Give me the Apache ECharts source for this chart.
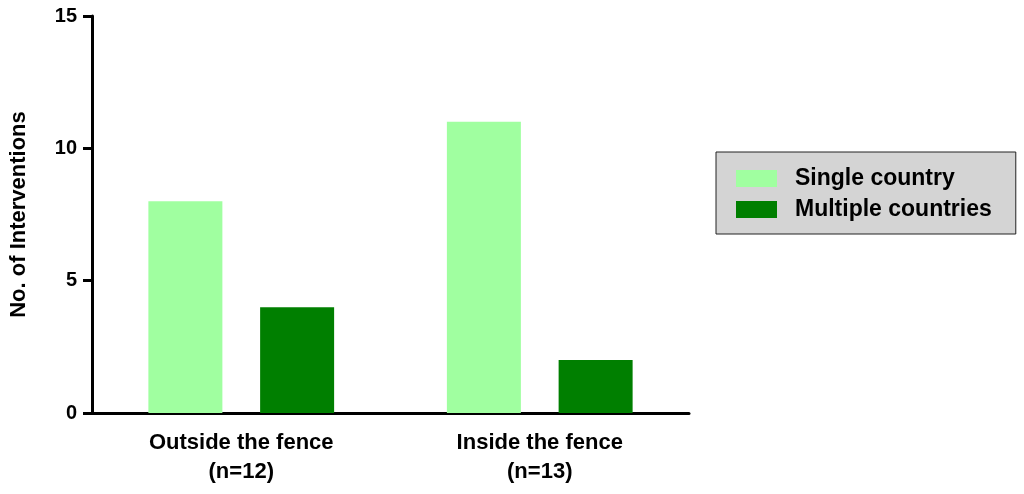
<!DOCTYPE html>
<html>
<head>
<meta charset="utf-8">
<script src="https://cdn.jsdelivr.net/npm/echarts@6/dist/echarts.min.js"></script>
<style>
    html, body { margin: 0; padding: 0; background: #fff; }
    #chart { width: 1024px; height: 494px; }
</style>
</head>
<body>
<div id="chart"></div>
<script>
const categories = ['Outside the fence\n(n=12)', 'Inside the fence\n(n=13)'];
const singleCountry = [8, 11];
const multipleCountries = [4, 2];

const chart = echarts.init(document.getElementById('chart'));

const axisFont = {
    color: '#000',
    fontFamily: 'Liberation Sans, Arial',
    fontWeight: 'bold'
};

chart.setOption({
    animation: false,
    grid: {
        left: 90,
        right: 335,
        top: 16,
        bottom: 81
    },
    legend: {
        orient: 'vertical',
        left: 716,
        top: 152,
        itemWidth: 41,
        itemHeight: 17,
        itemGap: 8,
        padding: [15, 24, 13, 20],
        backgroundColor: '#d4d4d4',
        borderColor: '#222',
        borderWidth: 1,
        borderRadius: 0,
        icon: 'rect',
        textStyle: Object.assign({ fontSize: 23, padding: [0, 0, 0, 13] }, axisFont),
        data: ['Single country', 'Multiple countries']
    },
    xAxis: {
        type: 'category',
        data: categories,
        axisLine: { lineStyle: { color: '#000', width: 3 } },
        axisTick: { alignWithLabel: true, length: 8, lineStyle: { color: '#000', width: 3 } },
        axisLabel: Object.assign({ fontSize: 22, lineHeight: 29, margin: 15 }, axisFont)
    },
    yAxis: {
        type: 'value',
        min: 0,
        max: 15,
        interval: 5,
        name: 'No. of Interventions',
        nameLocation: 'middle',
        nameGap: 62,
        nameTextStyle: Object.assign({ fontSize: 22 }, axisFont),
        splitLine: { show: false },
        axisLine: { show: true, lineStyle: { color: '#000', width: 3 } },
        axisTick: { show: true, length: 9, lineStyle: { color: '#000', width: 3 } },
        axisLabel: Object.assign({ fontSize: 20, margin: 15 }, axisFont)
    },
    series: [
        {
            name: 'Single country',
            type: 'bar',
            barWidth: 74,
            barGap: '51%',
            itemStyle: { color: '#a0ffa0' },
            data: singleCountry
        },
        {
            name: 'Multiple countries',
            type: 'bar',
            barWidth: 74,
            itemStyle: { color: '#007f00' },
            data: multipleCountries
        }
    ]
});
</script>
</body>
</html>
